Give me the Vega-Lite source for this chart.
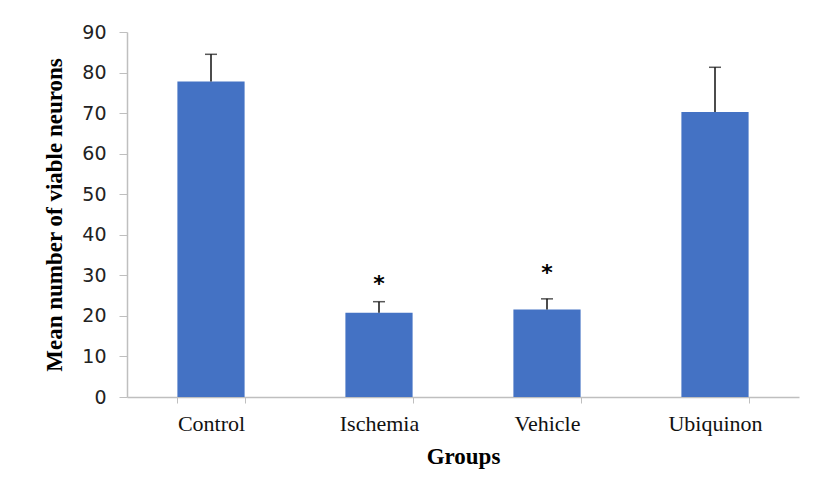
{
  "$schema": "https://vega.github.io/schema/vega-lite/v6.json",
  "width": 672,
  "height": 365,
  "autosize": {"type": "none"},
  "padding": {"left": 127, "top": 32, "right": 16, "bottom": 96},
  "background": "white",
  "config": {"view": {"stroke": null}},
  "data": {
    "values": [
      {"group": "Control", "mean": 77.8, "upper": 84.5, "sig": ""},
      {"group": "Ischemia", "mean": 20.8, "upper": 23.5, "sig": "*", "sigY": 29.0},
      {"group": "Vehicle", "mean": 21.6, "upper": 24.2, "sig": "*", "sigY": 31.9},
      {"group": "Ubiquinon", "mean": 70.3, "upper": 81.3, "sig": ""}
    ]
  },
  "encoding": {
    "x": {
      "field": "group",
      "type": "nominal",
      "sort": null,
      "scale": {"paddingInner": 0.6, "paddingOuter": 0.3},
      "axis": {
        "title": "Groups",
        "titleFont": "Liberation Serif",
        "titleFontSize": 23,
        "titleFontWeight": "bold",
        "titleColor": "#000",
        "titlePadding": 11,
        "labelFont": "Liberation Serif",
        "labelFontSize": 22,
        "labelColor": "#111",
        "labelAngle": 0,
        "labelPadding": 10,
        "tickBand": "extent",
        "tickSize": 6,
        "tickColor": "#bfbfbf",
        "domainColor": "#bfbfbf",
        "domainWidth": 1.5,
        "grid": false
      }
    }
  },
  "layer": [
    {
      "mark": {"type": "bar", "color": "#4472C4"},
      "encoding": {
        "y": {
          "field": "mean",
          "type": "quantitative",
          "scale": {"domain": [0, 90]},
          "axis": {
            "title": "Mean number of viable neurons",
            "titleFont": "Liberation Serif",
            "titleFontSize": 23,
            "titleFontWeight": "bold",
            "titleColor": "#000",
            "titlePadding": 15,
            "labelFont": "DejaVu Sans",
            "labelFontSize": 19,
            "labelColor": "#222",
            "labelPadding": 13,
            "values": [0, 10, 20, 30, 40, 50, 60, 70, 80, 90],
            "tickSize": 8,
            "tickColor": "#bfbfbf",
            "domainColor": "#bfbfbf",
            "domainWidth": 1.5,
            "grid": false
          }
        }
      }
    },
    {
      "mark": {"type": "rule", "color": "#111", "strokeWidth": 1.5},
      "encoding": {
        "y": {"field": "mean", "type": "quantitative"},
        "y2": {"field": "upper"}
      }
    },
    {
      "mark": {"type": "tick", "color": "#111", "orient": "horizontal", "size": 12, "thickness": 1.5},
      "encoding": {
        "y": {"field": "upper", "type": "quantitative"}
      }
    },
    {
      "transform": [{"filter": "datum.sig != ''"}],
      "mark": {"type": "text", "font": "DejaVu Sans", "fontSize": 22, "fontWeight": "bold", "color": "#000", "baseline": "middle", "dy": 5},
      "encoding": {
        "y": {"field": "sigY", "type": "quantitative"},
        "text": {"field": "sig"}
      }
    }
  ]
}
